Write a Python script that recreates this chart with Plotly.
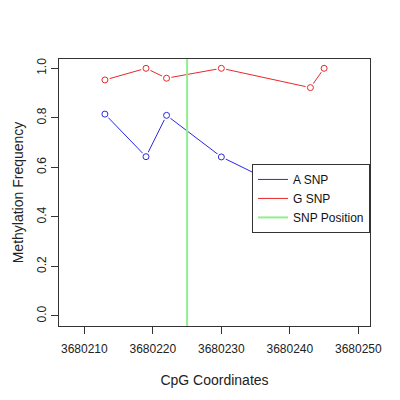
import plotly.graph_objects as go

# CpG positions and methylation frequencies
cpg_pos = [3680213, 3680219, 3680222, 3680230, 3680243, 3680245]
a_snp = [0.815, 0.643, 0.81, 0.642, 0.466, 0.5]
g_snp = [0.953, 1.0, 0.96, 1.0, 0.922, 1.0]
snp_position = 3680225

x_ticks = [3680210, 3680220, 3680230, 3680240, 3680250]
y_ticks = [0.0, 0.2, 0.4, 0.6, 0.8, 1.0]

blue = '#2828e8'
red = '#e82828'
green = '#8ef08e'
font = dict(family='Liberation Sans, Arial, sans-serif', size=12, color='#222222')

fig = go.Figure()

for name, vals, col in [('A SNP', a_snp, blue), ('G SNP', g_snp, red)]:
    fig.add_trace(go.Scatter(
        x=cpg_pos, y=vals, mode='lines', name=name,
        line=dict(color=col, width=1),
    ))
    # white halo so lines stop short of the points (R type="b")
    fig.add_trace(go.Scatter(
        x=cpg_pos, y=vals, mode='markers', showlegend=False,
        marker=dict(symbol='circle', size=10, color='white', line=dict(width=0)),
        hoverinfo='skip',
    ))
    fig.add_trace(go.Scatter(
        x=cpg_pos, y=vals, mode='markers', showlegend=False,
        marker=dict(symbol='circle-open', size=6, color=col, line=dict(width=1)),
    ))

# SNP position marker (vertical line, clipped by the plot area)
fig.add_trace(go.Scatter(
    x=[snp_position, snp_position], y=[-1, 2],
    mode='lines', name='SNP Position',
    line=dict(color=green, width=2),
))

fig.update_layout(
    width=400, height=400,
    margin=dict(l=51, r=38, t=51, b=82, autoexpand=False),
    plot_bgcolor='white', paper_bgcolor='white',
    font=font,
    legend=dict(
        x=1, xanchor='right', y=0.607, yanchor='top',
        bgcolor='white', bordercolor='#333333', borderwidth=1,
        traceorder='normal', itemwidth=30,
        font=dict(family=font['family'], size=12, color='#111111'),
        tracegroupgap=0,
    ),
)

fig.update_xaxes(
    range=[3680206.3, 3680251.7],
    tickvals=x_ticks, ticktext=[str(v) for v in x_ticks],
    ticks='outside', ticklen=7, tickcolor='#333333',
    ticklabelstandoff=5,
    showline=True, linecolor='#333333', mirror=True, linewidth=1,
    showgrid=False, zeroline=False, automargin=False,
    title=dict(text='CpG Coordinates', standoff=19),
)
fig.update_yaxes(
    range=[-0.041, 1.0376],
    tickvals=y_ticks, ticktext=[f'{v:.1f}' for v in y_ticks],
    tickangle=-90,
    ticks='outside', ticklen=7, tickcolor='#333333',
    showline=True, linecolor='#333333', mirror=True, linewidth=1,
    showgrid=False, zeroline=False, automargin=False,
    title=dict(text='Methylation Frequency', standoff=8),
)

fig.write_html("out.html")
